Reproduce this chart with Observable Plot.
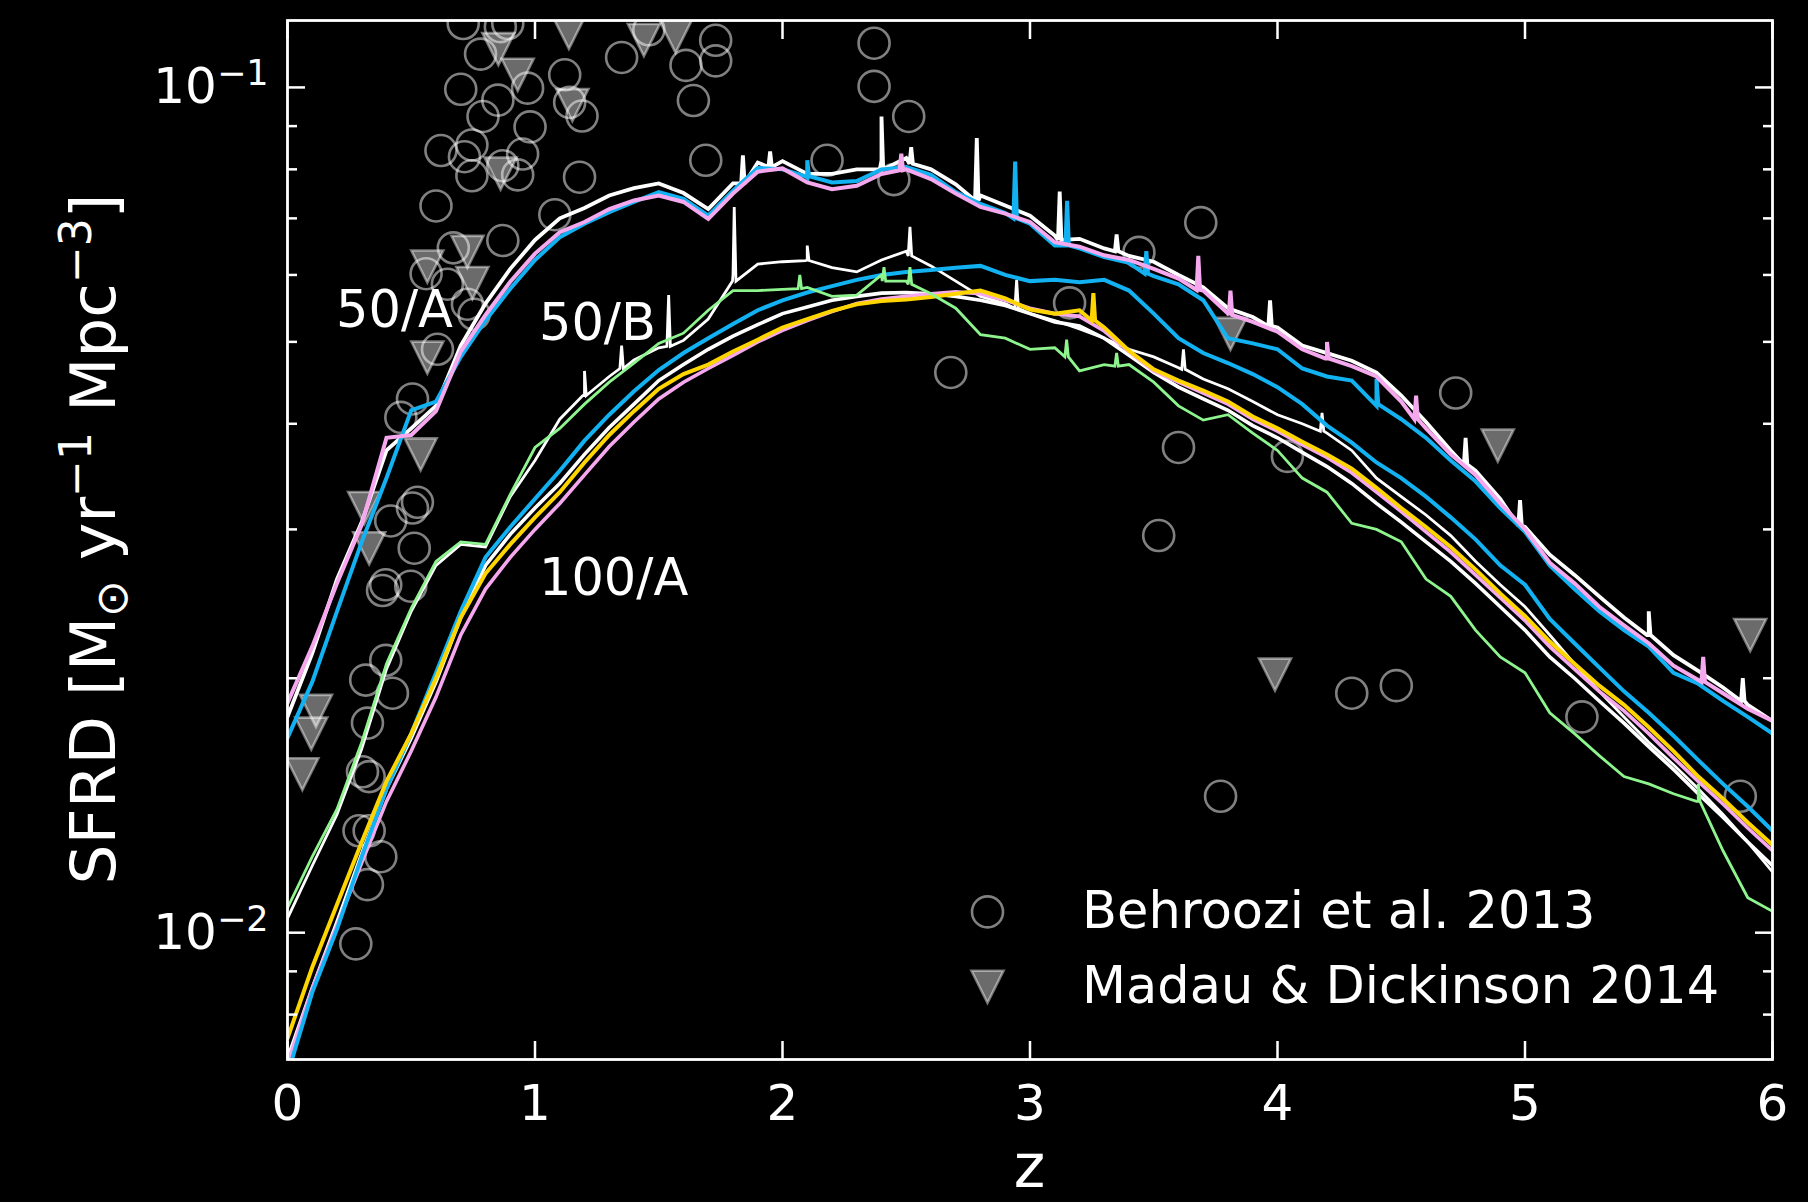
<!DOCTYPE html>
<html>
<head>
<meta charset="utf-8">
<script src="https://cdn.jsdelivr.net/npm/d3@7"></script>
<script src="https://cdn.jsdelivr.net/npm/@observablehq/plot@0.6"></script>
<style>
  html, body { margin: 0; padding: 0; background: #000; }
  #chart svg { display: block; }
</style>
</head>
<body>
<div id="chart"></div>
<script>
// ---- Redshift sampling grid shared by all simulation curves ----
const zGrid = [
  0.0, 0.1, 0.2, 0.3, 0.4, 0.5, 0.6, 0.7, 0.8, 0.9,
  1.0, 1.1, 1.2, 1.3, 1.4, 1.5, 1.6, 1.7, 1.8, 1.9,
  2.0, 2.1, 2.2, 2.3, 2.4, 2.5, 2.6, 2.7, 2.8, 2.9,
  3.0, 3.1, 3.2, 3.3, 3.4, 3.5, 3.6, 3.7, 3.8, 3.9,
  4.0, 4.1, 4.2, 4.3, 4.4, 4.5, 4.6, 4.7, 4.8, 4.9,
  5.0, 5.1, 5.2, 5.3, 5.4, 5.5, 5.6, 5.7, 5.8, 5.9,
  6.0
];

// ---- Star formation rate density [Msun / yr / Mpc^3] per run ----
const sfrd50A_white = [
  0.0180,0.0214,0.0262,0.0306,0.0372,0.0395,0.0420,0.0495,0.0555,0.0610,
  0.0660,0.0700,0.0720,0.0745,0.0760,0.0770,0.0750,0.0718,0.0770,0.0815,
  0.0818,0.0790,0.0790,0.0800,0.0820,0.0825,0.0800,0.0768,0.0745,0.0725,
  0.0705,0.0668,0.0662,0.0645,0.0632,0.0622,0.0600,0.0580,0.0548,0.0535,
  0.0520,0.0495,0.0485,0.0475,0.0460,0.0432,0.0402,0.0372,0.0352,0.0326,
  0.0302,0.0280,0.0265,0.0250,0.0236,0.0225,0.0213,0.0204,0.0195,0.0186,
  0.0178
];
const sfrd50A_blue = [
  0.0170,0.0198,0.0240,0.0290,0.0345,0.0415,0.0425,0.0480,0.0530,0.0578,
  0.0625,0.0665,0.0690,0.0712,0.0732,0.0752,0.0738,0.0705,0.0755,0.0803,
  0.0800,0.0782,0.0772,0.0775,0.0800,0.0805,0.0788,0.0752,0.0728,0.0710,
  0.0690,0.0650,0.0645,0.0630,0.0620,0.0598,0.0585,0.0560,0.0505,0.0498,
  0.0490,0.0465,0.0455,0.0450,0.0420,0.0405,0.0385,0.0362,0.0342,0.0318,
  0.0298,0.0272,0.0255,0.0240,0.0228,0.0218,0.0203,0.0197,0.0188,0.0180,
  0.0172
];
const sfrd50A_pink = [
  0.0187,0.0218,0.0259,0.0304,0.0385,0.0388,0.0414,0.0487,0.0538,0.0589,
  0.0636,0.0674,0.0693,0.0718,0.0735,0.0745,0.0732,0.0699,0.0749,0.0795,
  0.0802,0.0772,0.0758,0.0765,0.0790,0.0800,0.0779,0.0749,0.0722,0.0709,
  0.0693,0.0656,0.0648,0.0633,0.0625,0.0610,0.0594,0.0575,0.0540,0.0528,
  0.0514,0.0490,0.0478,0.0468,0.0455,0.0425,0.0395,0.0368,0.0348,0.0322,
  0.0300,0.0274,0.0259,0.0243,0.0231,0.0220,0.0207,0.0199,0.0192,0.0184,
  0.0178
];
const sfrd50B_white = [
  0.0104,0.0120,0.0138,0.0165,0.0205,0.0240,0.0272,0.0288,0.0286,0.0328,
  0.0362,0.0405,0.0432,0.0455,0.0476,0.0492,0.0502,0.0532,0.0600,0.0618,
  0.0622,0.0625,0.0612,0.0605,0.0625,0.0640,0.0615,0.0590,0.0566,0.0555,
  0.0540,0.0530,0.0518,0.0505,0.0490,0.0480,0.0466,0.0452,0.0440,0.0425,
  0.0410,0.0400,0.0390,0.0372,0.0345,0.0328,0.0312,0.0295,0.0275,0.0258,
  0.0243,0.0225,0.0208,0.0193,0.0180,0.0168,0.0158,0.0148,0.0138,0.0128,
  0.0118
];
const sfrd50B_green = [
  0.0107,0.0123,0.0140,0.0168,0.0208,0.0242,0.0275,0.0290,0.0288,0.0330,
  0.0375,0.0395,0.0422,0.0448,0.0472,0.0498,0.0512,0.0545,0.0575,0.0575,
  0.0577,0.0580,0.0566,0.0568,0.0600,0.0590,0.0570,0.0548,0.0510,0.0505,
  0.0490,0.0492,0.0462,0.0470,0.0470,0.0448,0.0420,0.0404,0.0410,0.0390,
  0.0372,0.0345,0.0332,0.0305,0.0300,0.0290,0.0262,0.0250,0.0228,0.0212,
  0.0203,0.0182,0.0172,0.0162,0.0153,0.0150,0.0146,0.0143,0.0125,0.0110,
  0.0106
];
const sfrd100A_white = [
  0.0071,0.0086,0.0103,0.0124,0.0148,0.0170,0.0198,0.0236,0.0272,0.0296,
  0.0318,0.0340,0.0368,0.0396,0.0422,0.0450,0.0470,0.0490,0.0508,0.0524,
  0.0540,0.0550,0.0560,0.0566,0.0571,0.0572,0.0570,0.0566,0.0560,0.0552,
  0.0540,0.0528,0.0522,0.0505,0.0482,0.0460,0.0442,0.0428,0.0415,0.0398,
  0.0385,0.0370,0.0356,0.0340,0.0322,0.0306,0.0290,0.0275,0.0259,0.0243,
  0.0228,0.0212,0.0200,0.0188,0.0177,0.0166,0.0156,0.0146,0.0137,0.0128,
  0.0120
];
const sfrd100A_pink = [
  0.0070,0.0086,0.0102,0.0121,0.0143,0.0164,0.0190,0.0225,0.0255,0.0278,
  0.0300,0.0322,0.0348,0.0376,0.0402,0.0428,0.0448,0.0465,0.0482,0.0500,
  0.0516,0.0530,0.0543,0.0555,0.0562,0.0566,0.0570,0.0573,0.0570,0.0560,
  0.0548,0.0540,0.0536,0.0515,0.0487,0.0462,0.0448,0.0435,0.0422,0.0405,
  0.0392,0.0378,0.0365,0.0350,0.0332,0.0315,0.0298,0.0282,0.0265,0.0249,
  0.0234,0.0218,0.0205,0.0193,0.0183,0.0172,0.0161,0.0151,0.0142,0.0133,
  0.0125
];
const sfrd100A_blue = [
  0.0068,0.0085,0.0101,0.0123,0.0148,0.0172,0.0203,0.0240,0.0278,0.0302,
  0.0326,0.0352,0.0382,0.0410,0.0437,0.0463,0.0485,0.0505,0.0525,0.0545,
  0.0560,0.0572,0.0582,0.0592,0.0600,0.0605,0.0608,0.0612,0.0615,0.0600,
  0.0590,0.0592,0.0588,0.0592,0.0575,0.0540,0.0505,0.0485,0.0472,0.0458,
  0.0442,0.0422,0.0398,0.0380,0.0360,0.0345,0.0328,0.0310,0.0292,0.0272,
  0.0258,0.0235,0.0220,0.0206,0.0193,0.0182,0.0171,0.0160,0.0150,0.0141,
  0.0132
];
const sfrd100A_yellow = [
  0.0075,0.0091,0.0108,0.0128,0.0151,0.0172,0.0200,0.0236,0.0266,0.0288,
  0.0310,0.0332,0.0360,0.0388,0.0414,0.0440,0.0458,0.0470,0.0487,0.0503,
  0.0520,0.0532,0.0544,0.0554,0.0559,0.0561,0.0565,0.0570,0.0575,0.0563,
  0.0546,0.0540,0.0545,0.0520,0.0488,0.0464,0.0450,0.0438,0.0425,0.0408,
  0.0395,0.0381,0.0368,0.0354,0.0336,0.0318,0.0302,0.0286,0.0269,0.0252,
  0.0237,0.0221,0.0208,0.0196,0.0186,0.0175,0.0164,0.0153,0.0144,0.0135,
  0.0127
];

// ---- Narrow spikes in the noisy runs: [z, level beside the spike, peak] ----
const spikes50A_white = [
  [1.84, 0.0770, 0.0831], [1.95, 0.0805, 0.0840], [2.40, 0.0800, 0.0924], [2.52, 0.0812, 0.0850],
  [2.785, 0.0735, 0.0871], [3.12, 0.0660, 0.0753], [3.35, 0.0640, 0.0670], [3.97, 0.0522, 0.0560],
  [4.76, 0.0358, 0.0385], [4.98, 0.0303, 0.0325], [5.50, 0.0225, 0.0240], [5.88, 0.0188, 0.0200]
];
const spikes50A_blue = [
  [2.10, 0.0785, 0.0820], [2.94, 0.0700, 0.0817], [3.15, 0.0650, 0.0734], [3.47, 0.0602, 0.0640],
  [4.40, 0.0422, 0.0452]
];
const spikes50A_pink = [
  [2.48, 0.0798, 0.0835], [3.68, 0.0576, 0.0632], [3.81, 0.0538, 0.0575], [4.20, 0.0478, 0.0500],
  [4.56, 0.0405, 0.0432], [5.72, 0.0198, 0.0212]
];
const spikes50B_white = [
  [1.20, 0.0432, 0.0462], [1.35, 0.0465, 0.0495], [1.54, 0.0494, 0.0568], [1.805, 0.0590, 0.0722],
  [2.10, 0.0624, 0.0650], [2.515, 0.0632, 0.0684], [2.946, 0.0548, 0.0592], [3.62, 0.0464, 0.0490],
  [4.18, 0.0392, 0.0412]
];
const spikes50B_green = [
  [2.07, 0.0578, 0.0600], [2.41, 0.0590, 0.0613], [2.515, 0.0585, 0.0613], [3.148, 0.0480, 0.0503],
  [3.35, 0.0468, 0.0485], [5.70, 0.0143, 0.0150]
];
const spikes100A_yellow = [[3.256, 0.0530, 0.0571]];

// ---- Observational compilations ----
const behrooziZ = [
  0.71, 0.86, 0.89, 0.78, 0.70, 0.85, 0.79, 0.97, 0.98, 1.12,
  1.19, 1.14, 0.62, 0.745, 0.715, 0.745, 0.87, 0.95, 0.93, 1.18,
  1.08, 0.60, 0.67, 0.87, 0.56, 1.35, 1.46, 1.61, 1.64, 1.73,
  1.73, 1.69, 0.646, 0.727, 0.754, 0.606, 0.505, 0.458, 0.525, 0.505,
  0.417, 0.512, 0.397, 0.498, 0.384, 0.397, 0.316, 0.424, 0.323, 0.303,
  0.33, 0.289, 0.33, 0.377, 0.323, 0.276, 2.37, 2.37, 2.51, 2.18,
  2.45, 2.68, 3.16, 3.44, 3.69, 4.72, 3.60, 3.52, 3.77, 4.30,
  4.48, 5.23, 5.87, 4.04
];
const behrooziSFRD = [
  0.119, 0.118, 0.119, 0.1095, 0.0995, 0.0966, 0.0924, 0.0998, 0.0898, 0.1035,
  0.0925, 0.0960, 0.0842, 0.0855, 0.0828, 0.0786, 0.0808, 0.0834, 0.0788, 0.0783,
  0.0707, 0.0724, 0.0646, 0.0659, 0.0602, 0.1085, 0.1170, 0.1062, 0.0965, 0.1137,
  0.1075, 0.0820, 0.0585, 0.0554, 0.0539, 0.0490, 0.0428, 0.0407, 0.0323, 0.0318,
  0.0307, 0.0285, 0.0258, 0.0257, 0.0254, 0.0210, 0.0199, 0.0192, 0.0177, 0.0155,
  0.0153, 0.0132, 0.0132, 0.0123, 0.0114, 0.0097, 0.1128, 0.1003, 0.0924, 0.0820,
  0.0778, 0.0460, 0.0556, 0.0638, 0.0692, 0.0435, 0.0375, 0.0295, 0.0145, 0.0192,
  0.0196, 0.0180, 0.0145, 0.0366
];
const madauZ = [
  0.852, 0.93, 1.137, 1.44, 1.568, 1.151, 0.861, 0.565, 0.727, 0.747,
  0.565, 0.538, 0.31, 0.33, 0.115, 0.096, 0.060, 3.81, 3.99, 4.89,
  5.91
];
const madauSFRD = [
  0.1110, 0.1035, 0.1160, 0.1138, 0.1148, 0.0953, 0.0791, 0.0614, 0.0639, 0.0587,
  0.0479, 0.0368, 0.0318, 0.0285, 0.0183, 0.0172, 0.0154, 0.0511, 0.0202, 0.0377,
  0.0225
];

// ---- Text ----
const legendLabels = ["Behroozi et al. 2013", "Madau & Dickinson 2014"];
const runLabels = ["50/A", "50/B", "100/A"];
const runLabelZ = [0.196, 1.016, 1.016];
const runLabelSFRD = [0.0544, 0.0526, 0.0262];
const xTicks = [0, 1, 2, 3, 4, 5, 6];
const yMajorTicks = [0.01, 0.1];
const yMinorTicks = [0.008, 0.009, 0.02, 0.03, 0.04, 0.05, 0.06, 0.07, 0.08, 0.09];

// ---- Build tables ----
// a run's points, with each spike inserted as a narrow peak between two points at its side level
const rows = (values, spikeList = []) => [
  ...zGrid.map((z, i) => ({z, sfrd: values[i]})),
  ...spikeList.flatMap(([z, side, peak]) => [
    {z: z - 0.007, sfrd: side},
    {z, sfrd: peak},
    {z: z + 0.007, sfrd: side}
  ])
].sort((a, b) => a.z - b.z);
const behroozi = behrooziZ.map((z, i) => ({z, sfrd: behrooziSFRD[i]}));
const madau = madauZ.map((z, i) => ({z, sfrd: madauSFRD[i]}));
const runLabelRows = runLabels.map((t, i) => ({t, z: runLabelZ[i], sfrd: runLabelSFRD[i]}));

// Downward triangle, as wide as it is tall
const downTriangle = {
  draw(context, size) {
    const r = Math.sqrt(size / Math.PI);
    context.moveTo(-r, -r);
    context.lineTo(r, -r);
    context.lineTo(0, r);
    context.closePath();
  }
};

const WHITE = "#ffffff", BLUE = "#12b2f2", PINK = "#f6a8ee", GREEN = "#8ef58e", GOLD = "#ffd500";

const curve = (values, spikeList, stroke, strokeWidth) =>
  Plot.line(rows(values, spikeList), {x: "z", y: "sfrd", stroke, strokeWidth, clip: true, strokeLinejoin: "miter", strokeMiterlimit: 3});

const circleStyle = {r: 15.5, fill: "none", stroke: "white", strokeOpacity: 0.5, strokeWidth: 2.6};
const triangleStyle = {r: 16, symbol: downTriangle, fill: "white", fillOpacity: 0.42, stroke: "white", strokeOpacity: 0.45, strokeWidth: 2.6};

const plot = Plot.plot({
  width: 1808,
  height: 1202,
  marginLeft: 287,
  marginRight: 36,
  marginTop: 20,
  marginBottom: 143,
  style: {background: "#000", color: "#fff", fontFamily: "'DejaVu Sans', sans-serif", fontSize: "50px"},
  x: {domain: [0, 6]},
  y: {type: "log", domain: [0.007079, 0.1200]},
  marks: [
    // observations (behind the simulation curves)
    Plot.dot(behroozi, {x: "z", y: "sfrd", ...circleStyle, clip: true}),
    Plot.dot(madau, {x: "z", y: "sfrd", ...triangleStyle, clip: true}),

    // 50/B and 100/A runs
    curve(sfrd50B_white, spikes50B_white, WHITE, 2.8),
    curve(sfrd100A_white, [], WHITE, 3.6),
    curve(sfrd100A_pink, [], PINK, 3.6),
    curve(sfrd100A_blue, [], BLUE, 4.0),
    curve(sfrd100A_yellow, spikes100A_yellow, GOLD, 4.0),
    curve(sfrd50B_green, spikes50B_green, GREEN, 2.8),

    // 50/A runs
    curve(sfrd50A_white, spikes50A_white, WHITE, 3.8),
    curve(sfrd50A_blue, spikes50A_blue, BLUE, 4.0),
    curve(sfrd50A_pink, spikes50A_pink, PINK, 4.0),

    // run labels
    Plot.text(runLabelRows, {x: "z", y: "sfrd", text: "t", textAnchor: "start", fill: "white", fontSize: 51}),

    // legend
    Plot.dot([legendLabels[0]], {frameAnchor: "bottom-left", dx: 700, dy: -147.6, ...circleStyle}),
    Plot.dot([legendLabels[1]], {frameAnchor: "bottom-left", dx: 700, dy: -72.7, ...triangleStyle}),
    Plot.text([legendLabels[0]], {frameAnchor: "bottom-left", dx: 794.6, dy: -132, text: d => d, textAnchor: "start", fill: "white", fontSize: 51}),
    Plot.text([legendLabels[1]], {frameAnchor: "bottom-left", dx: 794.6, dy: -57, text: d => d, textAnchor: "start", fill: "white", fontSize: 51}),

    // axes: inward ticks on all four sides
    Plot.axisX(xTicks, {anchor: "bottom", tickSize: -18, tickPadding: 43, strokeWidth: 2.5, fontSize: 50, label: null, tickFormat: d => String(d)}),
    Plot.axisX(xTicks, {anchor: "top", tickSize: -18, strokeWidth: 2.5, label: null, tickFormat: () => ""}),
    Plot.axisY(yMajorTicks, {anchor: "left", tickSize: -18, tickPadding: 37, strokeWidth: 2.5, fontSize: 50, label: null, tickFormat: d => "10^" + Math.round(Math.log10(d))}),
    Plot.axisY(yMinorTicks, {anchor: "left", tickSize: -10, strokeWidth: 2.5, label: null, tickFormat: () => ""}),
    Plot.axisY(yMajorTicks, {anchor: "right", tickSize: -18, strokeWidth: 2.5, label: null, tickFormat: () => ""}),
    Plot.axisY(yMinorTicks, {anchor: "right", tickSize: -10, strokeWidth: 2.5, label: null, tickFormat: () => ""}),
    Plot.frame({stroke: "white", strokeWidth: 2.8})
  ]
});

document.getElementById("chart").appendChild(plot);

const svg = d3.select(plot);

// exponents of the power-of-ten tick labels as superscripts
svg.selectAll("text").each(function () {
  const el = d3.select(this);
  const m = /^10\^(-?\d+)$/.exec(el.text());
  if (!m) return;
  el.text("10");
  el.append("tspan")
    .attr("dy", "-18")
    .style("font-size", "35px")
    .text(m[1].replace("-", "\u2212"));
});

// x-axis title
svg.append("text")
  .attr("x", 1029.5)
  .attr("y", 1187)
  .attr("text-anchor", "middle")
  .attr("fill", "white")
  .style("font-size", "60px")
  .style("font-family", "'DejaVu Sans', sans-serif")
  .text("z");

// y-axis title with sub/superscripts
const yTitle = svg.append("text")
  .attr("transform", "translate(115,539) rotate(-90)")
  .attr("text-anchor", "middle")
  .attr("fill", "white")
  .style("font-size", "63px")
  .style("font-family", "'DejaVu Sans', sans-serif");
yTitle.append("tspan").text("SFRD [M");
yTitle.append("tspan").attr("dy", 12).style("font-size", "44px").text("\u2299");
yTitle.append("tspan").attr("dy", -12).text(" yr");
yTitle.append("tspan").attr("dy", -24).style("font-size", "44px").text("\u22121");
yTitle.append("tspan").attr("dy", 24).text(" Mpc");
yTitle.append("tspan").attr("dy", -24).style("font-size", "44px").text("\u22123");
yTitle.append("tspan").attr("dy", 24).text("]");
</script>
</body>
</html>
